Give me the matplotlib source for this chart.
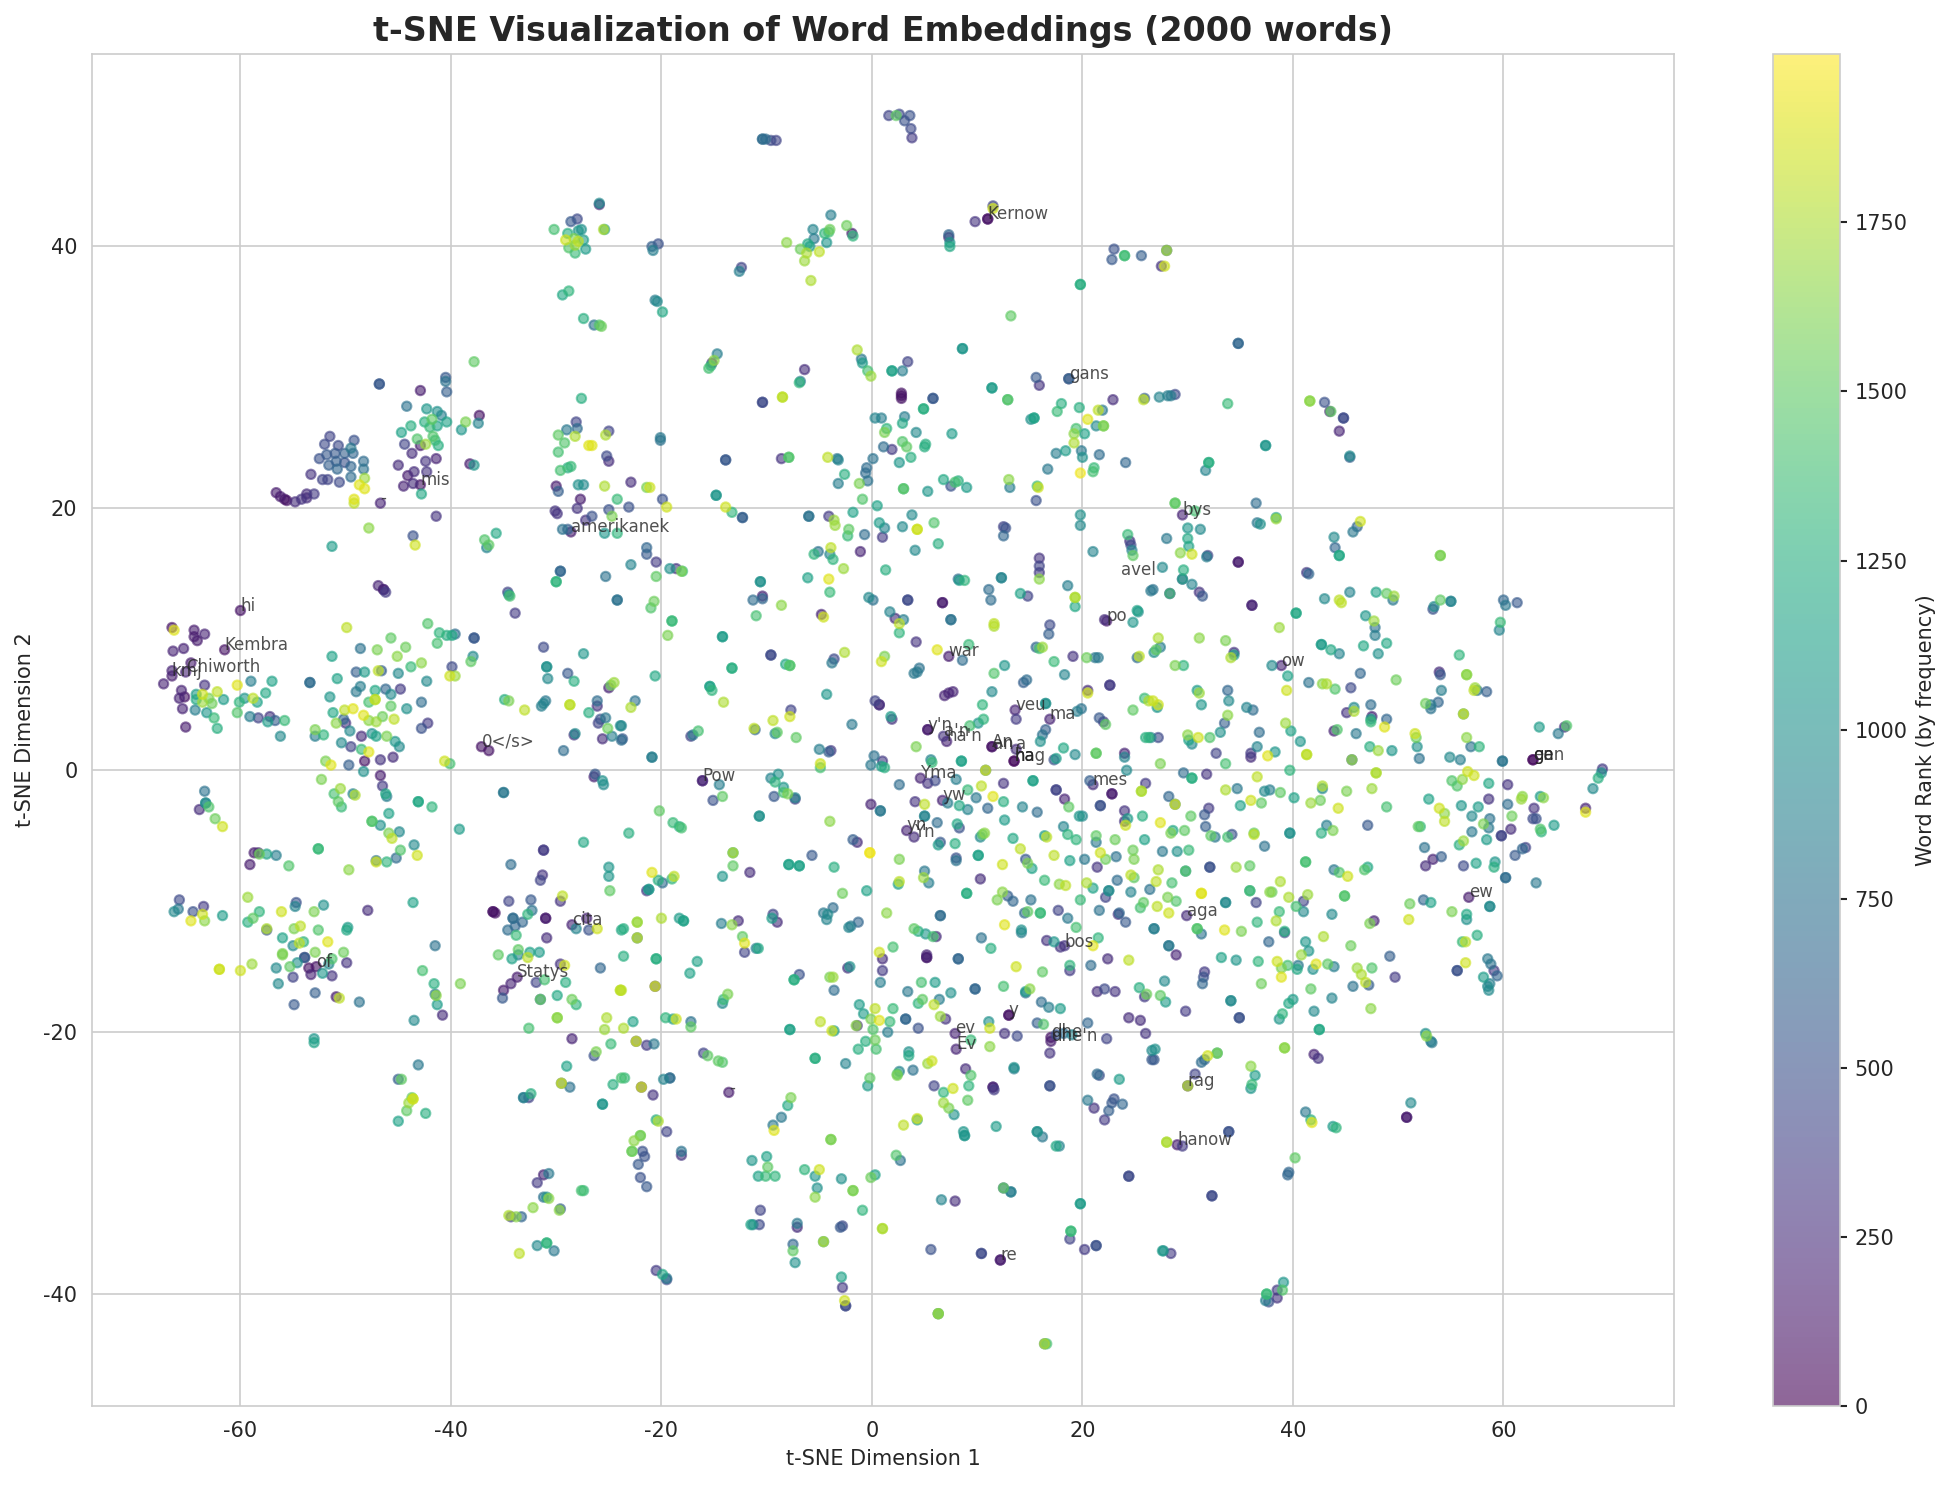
import matplotlib
matplotlib.use("Agg")
import matplotlib.pyplot as plt
import numpy as np
import seaborn as sns

# t-SNE coordinates and frequency ranks, grouped by area of the map
x_nw = [-25.9,-25.9,-28.0,-28.6,-30.2,-28.9,-27.9,-27.6,-25.5,-25.4,
 -29.1,-28.3,-27.9,-27.4,-28.8,-28.2,-28.2,-27.2,-29.4,-28.8,
 -27.4,-26.4,-25.9,-25.7,-37.8,-46.8,-46.8,-42.9,-40.5,-40.5,
 -40.4,-44.2,-42.3,-41.3,-40.9,-41.8,-42.5,-41.3,-40.4,-43.8,
 -42.0,-38.6,-37.3,-37.4,-39.0,-44.7,-41.7,-43.2,-41.5,-42.4,
 -42.9,-44.4,-41.2,-43.7,-42.4,-41.4,-45.0,-38.2,-37.8,-43.5,
 -42.3,-44.1,-43.6,-44.5,-42.9,-42.8,-51.5,-49.2,-52.0,-50.7,
 -49.5,-51.8,-51.0,-50.1,-49.3,-52.5,-50.9,-50.1,-51.6,-48.3,
 -49.5,-50.8,-48.3,-53.3,-49.5,-52.2,-51.7,-50.6,-48.2,-48.7,
 -48.2,-56.6,-56.2,-55.8,-55.6,-54.8,-54.2,-53.7,-53.7,-53.0,
 -49.2,-49.2,-46.7,-27.6,-28.1,-29.0,-28.0,-29.8,-28.2,-25.0,
 -25.3,-29.2,-26.9,-26.6,-29.8,-25.2,-25.0,-29.6,-28.6,-28.9,
 -27.9,-27.4,-25.4,-30.0,-29.8,-27.7,-24.2]
y_nw = [43.3,43.2,42.1,41.9,41.3,41.0,41.2,41.3,41.3,41.3,
 40.5,40.6,40.4,40.5,39.9,40.1,39.5,39.8,36.3,36.6,
 34.5,34.0,34.0,33.9,31.2,29.5,29.5,29.0,30.0,29.7,
 28.9,27.8,27.6,27.4,27.1,26.8,26.6,26.3,26.6,26.3,
 26.2,26.6,27.1,26.5,26.0,25.8,25.5,25.3,25.2,24.9,
 24.8,24.9,24.8,24.2,23.6,23.8,23.3,23.4,23.3,22.8,
 22.8,22.5,21.9,21.7,21.8,21.1,25.5,25.2,24.9,24.8,
 24.6,24.1,24.2,24.2,24.2,23.8,23.6,23.5,23.3,23.6,
 23.2,23.0,23.0,22.6,22.4,22.2,22.2,22.0,22.3,21.8,
 21.5,21.2,20.9,20.7,20.6,20.5,20.7,21.1,20.8,21.1,
 20.7,20.4,20.4,28.4,26.6,26.0,26.1,25.6,25.5,25.9,
 25.6,25.0,24.8,24.8,24.3,24.0,23.6,22.9,23.2,23.1,
 21.8,21.8,21.7,21.7,21.3,20.7,20.7]
rank_nw = [950,200,450,550,1400,1250,1050,1000,1750,1100,
 1850,1600,1800,1100,1450,1700,1350,1100,1200,1300,
 1250,750,1450,1550,1500,550,550,150,550,750,
 600,750,1050,1000,850,1500,1250,1150,1150,1250,
 1350,1600,100,900,1050,1150,1450,1450,1350,1700,
 150,400,1250,250,300,200,250,150,1050,250,
 300,150,250,200,100,1200,400,500,450,450,
 800,550,550,600,650,500,600,500,600,700,
 650,650,750,300,700,400,400,450,1700,1900,
 1900,150,150,100,100,250,300,250,250,350,
 1900,1800,200,1250,400,800,700,1500,1750,400,
 1750,1450,1900,1900,1400,450,250,1400,1350,1250,
 1000,950,1750,150,600,150,1350]

x_n = [1.6,2.6,2.3,3.6,3.1,3.7,3.8,-10.4,-10.4,-10.1,
 -9.6,-9.1,11.5,11.5,11.0,11.0,9.8,-3.9,-2.4,-5.6,
 -4.0,-4.5,-1.9,-1.8,-5.5,-4.1,-8.1,-6.1,-4.3,-5.9,
 -6.8,-6.2,-5.0,-6.4,-5.8,7.3,7.3,7.4,7.4,23.0,
 22.8,24.0,24.0,25.6,19.8,19.8,13.2,-12.4,-12.6,-20.3,
 -20.9,-20.8,-20.6,-20.4,-19.9,-14.7,-15.0,-15.2,-15.3,-15.5,
 -6.4,-6.8,-6.9,-8.5,-8.5,-10.4,-10.4,2.8,2.8,2.8,
 5.8,5.8,8.6,8.6,-1.4,-1.0,-0.9,-0.4,-0.1,1.9,
 1.9,2.9,3.4,15.6,15.9,18.7,18.7,11.4,11.4,12.9,
 12.9,22.9,25.8,25.9,18.0,19.7,17.6,21.5,21.9,15.1,
 15.4,15.4,4.9,4.9,0.3,0.9,3.1,2.9,1.4,1.2,
 4.2,7.6,2.9,3.3,5.1,5.0,1.1,1.9,3.7,2.6,
 0.1,-0.5,-0.6,-0.4,-3.2,-2.6,-1.2,-0.9,-3.3,-3.2,
 -4.2,-7.9,-7.9,-8.6,-13.9,-13.9,-20.1,-20.1,-22.9,-21.4,
 -21.1,-14.8,-14.8,-19.9,6.8,7.9,8.2,7.5,9.0,3.0,
 3.0,5.3,13.0,13.1,15.7,15.8,15.6,16.7,21.1,21.0,
 19.8,24.1,21.6,20.0,19.9,18.4,17.5,19.2,19.2,19.4,
 20.2,20.5,21.3,22.0,22.0]
y_n = [50.0,50.1,50.0,50.0,49.6,49.0,48.3,48.2,48.2,48.2,
 48.1,48.1,43.1,42.9,42.1,42.1,41.9,42.4,41.6,41.3,
 41.3,41.0,41.0,40.8,40.6,41.1,40.3,40.2,40.3,40.0,
 39.8,39.5,39.6,38.9,37.4,40.9,40.7,40.3,40.0,39.8,
 39.0,39.3,39.3,39.3,37.1,37.1,34.7,38.4,38.1,40.2,
 40.0,39.7,35.9,35.8,35.0,31.8,31.3,31.1,30.9,30.7,
 30.6,29.7,29.6,28.5,28.5,28.1,28.1,28.8,28.4,28.6,
 28.4,28.4,32.2,32.2,32.1,31.4,31.1,30.5,30.1,30.5,
 30.5,30.5,31.2,30.0,29.4,29.9,29.9,29.2,29.2,28.3,
 28.3,28.3,28.3,28.4,28.0,27.7,27.4,27.5,27.5,26.8,
 26.9,26.9,27.6,27.6,26.9,26.9,27.0,26.5,26.1,25.8,
 25.8,25.7,25.1,24.7,24.9,24.7,24.7,24.5,23.9,23.5,
 23.8,23.1,22.7,22.1,21.9,22.6,21.9,20.7,23.8,23.7,
 23.9,23.9,23.9,23.8,23.7,23.7,25.4,25.2,22.0,21.6,
 21.6,21.0,21.0,20.7,22.2,22.0,22.1,21.7,21.6,21.5,
 21.5,21.3,22.2,21.6,21.7,21.6,20.6,23.0,23.1,22.8,
 22.7,23.5,24.1,23.9,24.4,24.4,24.2,25.0,25.7,26.1,
 25.7,26.8,26.3,26.3,26.3]
rank_n = [400,450,1500,500,500,450,350,700,700,700,
 450,400,400,1850,100,100,300,850,1550,900,
 1550,1300,150,1300,800,1400,1650,1200,1050,1100,
 1550,1750,1800,1700,1750,650,200,1050,1200,500,
 550,1300,1400,600,1250,1250,1500,400,850,500,
 600,850,850,950,1200,850,1650,250,1250,1400,
 250,850,1300,1800,1800,450,450,100,100,100,
 550,550,1050,1050,1750,800,1100,1400,1700,1150,
 1150,850,400,550,300,700,200,1100,1100,1250,
 1500,250,1800,600,1250,1250,1350,1800,800,1000,
 1150,1150,1250,1250,900,850,850,1200,1300,1600,
 950,1100,1450,1500,1250,1250,700,350,1250,1050,
 750,700,700,750,850,1250,1600,1450,800,900,
 1800,1450,1450,300,550,550,800,750,250,1600,
 1850,1050,1050,500,1200,1400,1250,500,1100,1250,
 1500,1050,1650,850,1350,1850,500,800,1350,1400,
 1950,650,700,1000,800,1100,850,1750,1650,1400,
 1150,1900,950,1600,1600]

x_ne = [28.0,28.0,27.5,27.8,34.8,34.8,27.3,28.1,28.4,28.8,
 33.8,41.6,41.6,43.0,43.6,43.5,44.8,44.8,44.4,45.4,
 45.4,37.4,37.4,32.0,32.0,31.7,28.8,28.8,36.5]
y_ne = [39.7,39.7,38.5,38.5,32.6,32.6,28.5,28.6,28.6,28.7,
 28.0,28.2,28.2,28.1,27.4,27.4,26.9,26.9,25.9,24.0,
 23.9,24.8,24.8,23.5,23.5,22.9,20.4,20.4,20.4]
rank_ne = [500,1700,300,1850,650,650,900,850,800,450,
 1350,1650,1650,500,1500,200,450,450,200,950,
 600,1050,1050,1250,1250,900,1500,1500,700]

x_w = [-41.4,-47.8,-43.6,-43.4,-51.3,-36.8,-36.4,-36.6,-35.7,-30.1,
 -29.9,-28.0,-26.6,-25.0,-27.2,-24.7,-29.4,-28.9,-28.6,-25.4,
 -24.2,-29.6,-29.6,-30.0,-30.0,-25.3,-24.2,-24.2,-34.6,-34.5,
 -34.4,-33.9,-46.9,-46.4,-46.4,-46.2,-60.0,-66.5,-66.3,-64.4,
 -64.4,-63.4,-64.1,-65.4,-66.4,-61.5,-64.7,-66.5,-65.2,-66.5,
 -67.3,-63.4,-65.6,-65.8,-65.3,-65.5,-65.2,-60.3,-59.0,-57.0,
 -62.2,-63.6,-64.2,-64.2,-63.6,-63.0,-62.7,-61.6,-57.6,-59.6,
 -58.8,-58.4,-60.1,-64.3,-63.2,-62.5,-60.3,-59.1,-58.3,-57.2,
 -56.7,-57.4,-55.8,-62.2,-56.2,-53.4,-53.4,-49.9,-45.7,-44.3,
 -42.2,-41.1,-40.4,-39.9,-39.6,-41.3,-37.8,-37.8,-48.6,-47.0,
 -45.1,-51.3,-42.8,-43.8,-37.9,-38.1,-39.9,-49.0,-48.2,-46.9,
 -46.6,-45.0,-40.1,-39.6,-50.8,-42.3,-48.6,-49.0,-47.2,-46.2,
 -44.8,-45.7,-51.5,-47.2,-47.2,-47.8,-45.7,-42.8,-44.2,-50.1,
 -49.3,-51.2,-48.3,-50.2,-50.0,-50.9,-47.8,-47.1,-46.5,-45.4,
 -42.2,-42.8,-52.9,-52.9,-52.1,-49.6,-47.5,-47.1,-48.5,-46.1,
 -50.4,-45.3,-44.9,-49.5,-48.5,-47.8,-45.5,-46.7,-48.2,-51.9,
 -51.4,-49.7,-48.3,-40.6,-40.1,-37.1,-36.4,-31.2,-27.4,-30.9,
 -30.9,-30.8,-28.9,-28.3,-24.5,-24.8,-25.0,-34.9,-34.5,-33.0,
 -31.0,-31.2,-31.4,-28.7,-28.7,-26.1,-26.1,-26.9,-25.3,-25.8,
 -26.0,-25.1,-23.9,-28.2,-28.3,-24.7,-25.6,-23.8,-29.3,-26.3,
 -26.4,-25.6,-25.5,-35.0,-35.0,-63.4,-63.3,-63.3,-63.9,-63.0,
 -62.4,-61.7,-52.3,-50.5,-46.7,-46.5,-49.3,-49.1,-46.2,-46.1,
 -51.1,-50.7,-50.4,-43.1,-43.1,-41.8,-45.9,-47.5,-47.5,-46.7,
 -44.9,-45.9,-45.6,-39.2,-43.5,-44.8,-43.2,-27.4,-31.2,-31.2,
 -58.7,-58.3,-58.2,-57.5,-56.6,-52.6,-52.6,-59.1,-55.4,-47.1,
 -47.1,-46.1,-45.2,-49.7,-34.3,-31.3,-31.5,-25.0,-25.0,-24.9,
 -59.3,-65.8,-63.5,-65.9,-66.3,-64.5,-63.6,-64.7,-63.4,-61.7,
 -54.7,-54.8,-52.1,-53.0,-58.2,-58.8,-59.3,-56.1,-47.9,-43.6,
 -29.4,-29.6,-32.4,-34.5,-32.3,-32.7,-36.0,-36.0,-35.8,-34.1,
 -34.1,-33.2,-33.9,-34.6,-31.0,-31.0,-27.1,-28.5,-28.1,-26.9,
 -26.1,-23.8,-33.8,-30.9,-41.5,-57.5,-57.5,-54.9,-54.3,-52.6,
 -49.8,-49.9,-56.0,-54.0,-55.0,-54.4,-51.7,-56.0,-52.9,-50.2,
 -35.5,-33.6,-32.5,-31.6]
y_w = [19.4,18.5,17.9,17.2,17.1,17.6,17.2,17.0,18.1,19.8,
 19.6,20.0,19.4,19.9,19.1,19.4,18.4,18.4,18.2,18.1,
 18.1,15.2,15.2,14.4,14.4,14.8,13.0,13.0,13.6,13.4,
 13.3,12.0,14.1,13.8,13.8,13.6,12.2,10.9,10.7,10.7,
 10.2,10.4,9.9,9.3,9.1,9.2,8.2,7.6,7.5,7.2,
 6.6,6.5,6.1,5.5,5.6,4.7,3.3,6.5,6.8,6.8,
 6.0,5.8,5.8,5.4,5.2,5.5,5.1,5.4,5.9,5.5,
 5.5,5.2,5.2,4.6,4.4,4.0,4.4,4.1,4.0,4.1,
 3.8,3.7,3.8,3.2,2.6,6.7,6.7,10.9,10.1,9.4,
 11.2,10.5,10.3,10.3,10.4,9.7,10.1,10.1,9.3,9.2,
 8.7,8.7,8.2,7.9,8.7,8.3,7.9,7.5,7.5,7.6,
 7.6,7.4,7.2,7.2,7.0,6.8,6.4,6.0,6.1,6.2,
 6.2,5.8,5.6,5.4,5.4,5.2,4.9,5.2,4.7,4.6,
 4.7,4.4,4.2,3.9,3.6,3.6,3.8,3.7,4.1,3.9,
 3.6,3.2,3.1,2.6,2.7,3.0,2.8,2.6,2.6,2.6,
 2.1,2.2,1.8,1.8,1.6,1.4,1.0,0.8,0.7,0.7,
 0.4,0.4,-0.1,0.7,0.5,1.8,1.5,9.4,8.9,7.9,
 7.9,7.0,7.4,6.8,6.7,6.5,6.3,5.4,5.3,4.6,
 5.3,5.1,4.9,5.0,5.0,5.3,4.9,4.4,4.0,3.9,
 3.6,3.2,3.4,2.8,2.7,2.6,2.4,2.3,1.5,-0.3,
 -0.5,-0.8,-1.1,-1.7,-1.7,-1.6,-2.5,-2.5,-3.0,-2.8,
 -3.7,-4.3,-0.7,-1.4,-0.4,-1.2,-1.8,-1.9,-1.8,-2.0,
 -1.8,-2.4,-2.8,-2.4,-2.4,-2.8,-3.3,-3.9,-3.9,-4.2,
 -4.7,-4.8,-5.2,-4.5,-5.7,-6.1,-6.5,-5.5,-6.1,-6.1,
 -6.3,-6.3,-6.4,-6.4,-6.5,-6.0,-6.0,-7.2,-7.3,-6.9,
 -7.0,-7.0,-6.7,-7.6,-7.2,-8.0,-8.4,-7.4,-8.1,-9.2,
 -9.7,-9.9,-10.4,-10.6,-10.8,-10.8,-11.0,-11.5,-11.5,-11.1,
 -10.1,-10.4,-10.3,-10.8,-10.8,-11.3,-11.6,-10.8,-10.7,-10.1,
 -9.6,-10.0,-9.9,-10.0,-10.7,-11.0,-10.8,-10.8,-10.9,-11.3,
 -11.3,-11.6,-11.9,-12.2,-11.3,-11.3,-11.3,-11.8,-12.1,-12.2,
 -12.1,-12.2,-12.6,-12.8,-13.4,-12.1,-12.2,-12.1,-11.9,-12.2,
 -12.0,-12.2,-12.8,-13.1,-13.4,-13.2,-13.1,-14.0,-13.9,-13.9,
 -14.1,-13.7,-13.9,-13.9]
rank_w = [300,1650,500,1850,1100,1450,1500,900,1200,300,
 300,300,500,500,300,1600,750,600,150,1050,
 1300,650,650,1300,1300,750,750,750,400,1050,
 1400,350,200,200,200,350,100,100,1900,150,
 150,200,150,200,200,100,150,200,200,150,
 200,300,200,200,100,200,150,1900,850,1150,
 1800,1850,1100,1200,1700,1600,1550,1100,1200,1050,
 1800,1150,1300,850,1050,1350,1450,850,400,300,
 600,1100,1350,1250,950,700,700,1800,1500,1550,
 1450,1300,1250,1200,700,1400,550,550,750,1600,
 1650,1150,1650,1350,950,1500,450,600,1100,1800,
 600,950,1850,1700,1150,950,850,800,1200,650,
 350,950,1050,1800,1800,1400,1500,700,1000,1800,
 1900,1200,1900,650,300,1650,1650,1700,1550,1800,
 350,500,1600,850,1300,950,1000,1150,250,1600,
 950,1050,950,400,1350,1900,250,300,100,1600,
 1900,600,1000,1850,1400,100,100,450,1050,1000,
 1000,950,550,1250,1700,1550,200,1250,1600,1800,
 800,900,850,1800,1800,700,300,1250,800,500,
 400,1550,950,950,300,850,250,700,700,550,
 200,1000,950,800,800,750,950,950,250,1450,
 1550,1850,1600,1700,150,350,900,1750,1200,850,
 1400,1500,1350,1200,1200,1300,1150,1450,1450,1000,
 950,1600,1800,1100,950,1450,1850,1200,350,350,
 150,200,1550,1150,850,1350,1350,150,1450,750,
 1850,1300,700,1650,700,300,400,1050,1050,1500,
 1700,450,350,800,950,500,1850,1900,1650,1100,
 500,900,1000,1600,1300,1500,1250,1850,250,1150,
 1800,300,550,400,750,1300,100,100,100,700,
 700,650,650,700,150,150,200,200,900,500,
 1850,1200,1350,250,750,1750,500,1600,1800,1450,
 1100,1200,1150,1300,950,1800,1900,1600,1600,1550,
 1500,1500,1150,1100]

x_c = [-23.1,-19.5,-13.9,-13.3,-12.3,-12.3,-6.0,-6.0,-4.1,-3.6,
 -3.5,-1.8,0.5,-2.2,-2.3,-0.7,0.7,1.2,1.0,2.9,
 3.8,5.9,4.3,4.3,6.3,4.1,-21.4,-21.4,-20.5,-22.9,
 -19.2,-18.6,-18.1,-18.0,-20.5,-10.6,-10.6,-10.4,-11.3,-10.4,
 -8.6,-11.0,-20.7,-21.0,-19.0,-19.0,-19.4,-14.2,-14.2,-9.6,
 -9.6,-8.2,-7.8,-7.8,-13.3,-13.3,-20.6,-15.4,-15.4,-15.2,
 -14.1,-22.5,-22.9,-23.8,-23.7,-20.9,-20.9,-17.2,-17.0,-16.5,
 -4.3,-7.7,-7.8,-9.4,-11.2,-11.1,-9.2,-9.0,-7.2,-4.8,
 -4.6,-1.1,-5.1,-5.5,-3.9,-4.0,-3.7,-2.7,-6.1,-4.1,
 -4.0,1.3,-0.3,0.1,1.7,2.2,3.0,2.6,2.6,3.4,
 3.4,6.7,6.7,7.5,7.5,4.2,6.2,9.2,-2.6,-3.6,
 -3.8,1.2,0.9,8.6,7.3,4.5,4.3,4.0,12.6,11.6,
 14.7,14.4,11.4,7.7,7.3,6.9,0.3,0.7,0.7,10.5,
 16.5,16.5,13.6,13.7,16.9,10.6,10.1,9.3,1.8,1.9,
 -1.9,5.3,5.3,6.8,7.1,4.2,11.4,11.4,13.7,13.5,
 13.5,8.5,8.5,5.6,5.7,10.8,10.8,-5.0,-4.1,-3.9,
 -4.9,-4.9,0.2,1.0,-0.1,0.9,1.2,19.8,19.8,12.5,
 12.7,12.5,24.3,24.5,24.6,24.7,24.8,21.0,15.9,15.9,
 15.9,15.9,18.6,12.3,12.3,8.2,8.3,8.8,11.1,11.3,
 14.1,14.8,19.3,19.3,19.3,11.6,11.6,16.9,16.8,22.1,
 22.3,24.8,25.2,25.3,26.5,15.6,15.9,16.2,17.3,19.1,
 20.4,21.2,21.5,25.2,25.4,18.3,20.5,20.5,22.6,22.6,
 25.9,26.3,24.8,19.5,19.9,21.6,22.0,22.2,16.5,16.2,
 16.0,18.2,19.3,21.3,21.3,24.0,24.0,26.0,26.3,17.5,
 17.3,24.2,20.7,21.0,26.0,8.0,6.0,5.3,4.6,2.6,
 12.5,10.4,9.1,15.3,15.3,17.5,17.5,11.5,18.3,9.9,
 12.5,6.7,4.1,5.0,7.2,8.3,9.1,11.0,14.3,15.7,
 18.7,21.7,21.7,22.8,22.8,25.6,25.6,24.0,19.7,20.0,
 25.7,24.0,24.3,24.1,-0.1,0.8,0.8,-4.0,5.0,5.0,
 6.2,3.3,4.0,8.1,8.3,12.6,18.2,10.7,10.5,10.3,
 16.4,16.6,13.4,18.6,19.4,21.3,21.3,23.1,25.9,6.5,
 6.3,7.9,14.1,17.3,24.8,21.7,22.2,23.2,24.9,-0.2,
 -0.2,-1.8,-1.4,-5.7,8.0,8.0,10.1,10.1,14.6,14.8,
 15.2,18.8,20.2,2.6,12.4,21.4,-7.9,-7.9,-6.9,-6.9,
 -3.6,-13.2,-13.2,-13.2,-14.2,-11.6,-20.9,-18.8,-19.0,-20.3,
 -19.9,-21.4,-21.2,-21.2,24.6,24.9,20.4,21.0,23.3,22.5,
 22.5,22.2,24.6,26.4,25.8,25.5,16.4,17.8,18.4,5.0,
 4.9,5.4,2.6,2.5,10.3,-0.5,-2.8,9.0,9.0,12.4,
 12.9,11.9,13.4,15.1,19.8,14.5,14.8,16.0,16.0,17.7,
 18.6,21.6,23.5,23.4,24.1,1.4,6.5,6.5,12.6,14.2,
 14.2,19.4,4.0,4.4,5.1,5.8,6.1,10.4,16.6,17.3,
 18.3,17.9,21.5,21.0,2.0,11.3,0.7,5.2,-12.1,-11.0,
 -10.8,-12.1,-12.3,-13.3,-12.7,-14.3,-18.3,-17.9,-17.9,-20.0,
 -22.3,-22.3,-23.6,-22.3,-22.3,-9.4,-9.5,-9.0,-4.6,-3.7,
 -4.2,-4.3,-1.3,-2.0,-2.2,-9.6,-8.9,-9.2,-8.4,-16.1,
 -16.1,-14.5,-14.2,-15.1,-9.3,-8.4,-8.0,-7.3,-7.3,-10.7,
 -10.7,-20.2,-23.1,-18.9,-18.3,-18.1]
y_c = [20.1,20.1,20.1,19.7,19.3,19.3,19.4,19.4,19.4,19.1,
 18.7,19.7,20.2,18.4,17.9,18.0,18.9,18.5,17.8,18.6,
 19.5,18.9,18.4,18.4,17.3,16.8,17.0,16.5,15.9,15.7,
 15.4,15.4,15.2,15.2,14.8,14.4,14.4,13.3,13.0,13.1,
 12.6,11.8,12.9,12.4,11.4,11.4,10.3,10.2,10.2,8.8,
 8.8,8.1,8.0,8.0,7.8,7.8,7.2,6.4,6.4,6.1,
 5.2,5.3,4.8,3.4,2.4,1.0,1.0,2.6,2.7,3.0,
 5.8,4.6,4.1,3.8,3.2,3.1,2.8,2.9,2.5,11.9,
 11.7,16.7,16.7,16.5,17.0,16.5,16.1,15.4,14.7,14.6,
 13.6,15.3,13.2,13.0,12.1,11.6,11.5,11.2,10.5,13.0,
 13.0,12.8,12.8,11.5,11.5,9.8,9.2,9.6,9.0,8.5,
 8.2,8.7,8.3,8.4,8.7,7.8,7.5,7.4,8.0,7.4,
 6.9,6.7,6.0,6.0,5.9,5.7,5.3,5.0,5.0,5.0,
 5.1,5.1,4.6,3.9,3.9,3.9,3.6,3.4,4.1,3.9,
 3.5,3.1,3.1,2.6,2.2,1.8,1.8,1.8,1.6,0.7,
 0.7,0.7,0.7,0.8,0.6,0.0,0.0,1.6,1.4,1.5,
 0.5,0.2,1.1,0.7,0.4,0.3,0.2,18.7,19.5,18.6,
 18.5,17.9,18.0,17.5,17.2,16.8,16.4,16.7,16.2,15.6,
 15.1,14.6,14.1,14.7,14.7,14.6,14.5,14.5,13.8,13.0,
 13.5,13.3,13.2,13.2,12.5,11.2,11.0,11.1,10.4,11.5,
 11.4,11.3,12.2,12.1,13.7,9.4,9.3,9.4,8.3,8.7,
 8.6,8.6,8.6,8.6,8.7,7.3,6.1,5.9,6.5,6.5,
 5.5,5.3,4.6,4.5,4.7,4.0,3.7,3.5,3.1,2.7,
 2.2,1.7,1.2,1.3,1.3,1.3,1.0,2.5,2.5,0.9,
 0.8,0.0,-0.8,-1.1,-1.0,-0.7,-0.8,-1.0,-0.6,-1.1,
 -1.0,-1.2,-1.5,-0.8,-0.8,-1.5,-1.5,-2.0,-2.2,-2.1,
 -2.4,-2.3,-2.4,-2.6,-2.5,-2.7,-3.0,-2.9,-2.8,-3.2,
 -2.8,-2.7,-2.7,-1.8,-1.8,-1.6,-1.6,-3.1,-3.5,-3.5,
 -3.5,-3.9,-3.7,-4.2,-2.6,-3.1,-3.1,-3.9,-3.5,-3.5,
 -4.0,-4.6,-5.1,-4.1,-4.4,-3.8,-4.3,-4.8,-4.9,-5.1,
 -5.0,-5.1,-5.2,-4.9,-5.3,-5.0,-5.5,-5.3,-5.3,-5.5,
 -5.7,-5.6,-6.0,-6.5,-6.1,-6.3,-6.8,-6.6,-6.8,-6.3,
 -6.3,-5.3,-5.5,-6.5,-6.7,-6.9,-6.5,-6.5,-6.8,-7.1,
 -7.5,-6.9,-6.8,-6.8,-7.2,-7.4,-7.2,-7.2,-7.3,-7.3,
 -7.4,-6.3,-6.3,-7.3,-8.1,-7.8,-7.8,-8.1,-8.3,-8.4,
 -8.6,-9.2,-9.1,-9.1,-8.0,-8.2,-8.6,-9.0,-8.4,-9.2,
 -9.2,-9.7,-9.3,-9.1,-10.1,-10.5,-8.4,-8.7,-8.8,-7.7,
 -8.2,-8.6,-8.5,-8.7,-8.3,-9.2,-9.4,-9.4,-9.4,-9.3,
 -9.6,-9.9,-10.0,-9.9,-9.9,-10.9,-10.8,-10.9,-10.9,-10.7,
 -11.3,-10.7,-10.9,-11.0,-11.6,-10.9,-11.1,-11.1,-11.8,-12.2,
 -12.4,-12.0,-12.1,-12.3,-12.5,-12.7,-12.7,-12.8,-13.0,-13.1,
 -13.4,-13.5,-12.8,-13.4,-13.5,-13.6,-13.9,-14.1,-13.9,-13.6,
 -13.6,-13.2,-12.7,-11.8,-11.5,-11.7,-11.3,-11.5,-11.5,-11.3,
 -11.6,-11.6,-12.1,-12.8,-12.8,-11.0,-11.3,-11.6,-10.9,-10.5,
 -11.0,-11.4,-11.6,-11.9,-12.0,-0.6,-0.3,-0.9,-1.3,-0.8,
 -0.8,-1.1,-2.0,-2.3,-2.0,-1.7,-1.8,-2.2,-2.1,-3.5,
 -3.5,-3.1,-4.8,-4.0,-4.3,-4.4]
rank_c = [500,1850,1850,1300,600,600,750,750,350,1700,
 1700,1150,1150,1500,1350,700,1100,900,350,950,
 950,1450,1850,1850,1250,950,650,550,350,900,
 1000,300,1600,1350,1500,1000,1000,200,700,650,
 1650,1400,1550,1450,1350,1350,1600,1100,1100,450,
 450,1200,1450,1450,1250,1250,1200,1150,1150,1300,
 1750,750,1750,900,550,850,850,400,800,1400,
 1050,400,1850,1800,1800,650,950,1500,1500,200,
 1850,200,750,1300,1800,900,1300,1700,1150,1900,
 1350,1250,950,750,900,250,850,1800,1300,450,
 450,150,150,750,750,300,1900,1350,1750,450,
 800,1600,1850,700,150,750,800,800,1050,1450,
 700,600,950,200,200,200,400,250,250,1300,
 1000,1000,200,350,200,1300,1050,1400,1100,300,
 800,150,150,300,200,1600,100,100,250,50,
 50,1150,1150,900,1350,750,1850,850,600,350,
 1850,1400,750,350,800,1100,1250,950,1000,400,
 500,650,1350,300,450,900,1500,900,300,400,
 350,1650,850,900,900,700,1100,1300,700,700,
 1150,400,1750,1750,1200,1800,1750,450,600,250,
 150,1050,1150,1000,800,650,1400,1700,1350,300,
 1550,800,800,700,1800,900,250,1850,350,350,
 1350,1750,1500,850,750,550,350,1500,600,750,
 1000,1200,950,1500,1500,200,900,1250,1300,1100,
 500,950,600,250,350,850,450,300,200,700,
 300,1800,1350,1150,1150,400,400,1900,200,800,
 1250,200,300,1800,850,1200,900,650,900,700,
 1500,500,500,150,150,1750,1750,300,1050,950,
 1250,300,1100,1850,200,800,800,1650,900,900,
 700,200,250,1200,500,1100,900,1650,1500,950,
 1100,1800,1200,1300,1300,1500,800,1550,1150,550,
 1100,1250,1800,1800,1550,1850,1550,750,1600,1950,
 1950,600,250,550,500,750,1150,1150,550,1600,
 1150,1150,800,1600,1850,300,1150,1150,1150,1150,
 1250,1100,1750,1500,1050,250,1900,1800,1300,1250,
 700,350,1050,1050,1800,1500,1750,1150,700,950,
 950,400,900,750,1500,1400,1350,1650,1800,800,
 1700,850,1800,1150,250,1150,1550,1250,1250,1650,
 600,1600,650,750,1350,700,1500,1350,1350,400,
 800,750,650,300,550,1650,700,700,1900,1000,
 850,1400,1500,1250,1050,1400,250,750,300,1050,
 300,300,1300,1900,1400,1250,1850,200,400,850,
 1200,1900,1500,1650,250,850,1100,1150,1150,1750,
 1700,1700,1250,750,1800,400,1100,250,800,700,
 950,900,650,800,900,900,1000,1300,1050,200,
 200,850,1500,500,550,1400,1600,350,900,1000,
 1000,1500,1250,1350,1250,1400]

x_e = [29.5,30.7,36.6,36.9,38.4,38.4,46.4,46.1,45.7,43.9,
 44.0,44.4,44.4,54.0,54.0,30.0,31.2,28.0,30.0,30.1,
 29.3,30.4,31.8,31.9,34.8,34.8,27.6,29.6,29.5,29.5,
 30.4,26.7,28.3,28.3,31.1,31.4,41.3,41.5,43.0,45.4,
 44.4,44.6,47.9,48.9,49.6,49.5,54.0,53.4,53.3,55.0,
 55.0,60.0,60.2,61.3,59.7,59.6,36.1,36.1,40.3,40.3,
 38.7,46.9,47.7,47.8,47.8,27.2,31.1,33.6,27.4,27.0,
 26.8,34.4,34.4,34.1,42.7,42.7,43.6,44.4,46.7,48.9,
 48.1,55.8,28.8,29.6,38.0,38.9,39.5,41.5,42.8,43.2,
 44.0,46.4,45.5,49.8,53.9,54.0,56.5,56.5,57.3,57.2,
 57.5,58.4,54.1,39.4,30.9,31.1,33.8,33.9,31.3,26.7,
 27.2,27.1,35.6,36.2,52.6,53.1,53.1,53.8,45.8,45.8,
 47.4,45.1,56.2,56.2,33.8,33.5,47.5,47.4,47.4,48.9,
 48.7,39.3,39.8,36.8,33.1,30.0,31.0,32.1,30.1,30.4,
 27.2,26.5,43.9,44.2,46.0,40.7,51.6,51.7,51.8,47.3,
 48.1,49.4,56.5,56.9,57.7,63.4,65.2,65.8,66.0,36.6,
 36.0,36.0,38.3,37.6,32.7,27.4,33.6,41.3,41.3,45.6,
 45.6,52.0,54.9,55.9,59.9,59.9,62.8,62.8,69.4,69.3,
 69.0,68.5,29.6,30.4,30.4,31.8,39.7,36.6,47.9,47.9,
 56.6,57.2,56.1,55.1,55.6,58.6,60.4,33.6,34.7,37.3,
 37.8,38.8,40.1,42.8,42.8,45.1,47.5,28.2,28.8,28.8,
 36.0,35.0,37.0,41.7,42.6,44.3,48.9,52.9,53.9,54.4,
 56.0,57.6,58.6,60.4,61.8,61.7,63.5,63.8,62.9,67.8,
 67.8,32.0,31.6,30.3,27.4,31.7,34.2,32.6,32.2,33.8,
 28.6,28.4,29.7,36.3,36.3,39.7,39.7,43.2,42.7,43.8,
 47.1,51.9,52.1,54.4,57.0,58.7,60.8,62.8,63.1,58.1,
 58.6,57.0,60.7,59.8,59.8,63.5,63.6,64.8,58.4,56.2,
 55.8,52.5,37.3,27.6,29.0,30.1,62.1,61.8,61.1,53.3,
 54.1,52.6,56.2,57.4,59.2,59.1,60.2,60.2,63.1,41.2,
 41.2,43.9,44.4,45.2,47.1,46.8,35.9,34.6,32.1,32.1,
 27.2,29.8,29.8,27.0,28.5,38.8,35.9,35.9,37.8,38.0,
 31.3,31.3,28.1,28.9,33.6,33.6,39.6,41.4,41.0,44.9,
 44.9,36.5,27.1,28.2,29.9,38.7,40.3,41.0,43.7,36.6,
 38.4,47.7,47.3,51.0,51.1,52.4,53.1,55.1,56.7,56.5,
 56.5,58.7,58.7,26.8,26.8,30.9,30.9,31.3,33.5,35.1,
 39.2,39.2,37.7,41.2,42.9,45.5,57.5,56.1,56.4,28.2,
 28.2,41.5]
y_e = [19.5,19.8,18.9,18.8,19.3,19.2,19.0,18.6,18.2,17.8,
 17.0,16.4,16.4,16.4,16.4,18.5,18.4,17.7,17.7,17.1,
 16.6,16.5,16.3,16.4,15.9,15.9,15.5,15.3,14.6,14.6,
 14.2,13.8,13.5,13.5,13.6,13.3,15.1,15.0,13.1,13.6,
 13.0,12.8,13.6,13.5,13.3,13.0,13.0,12.5,12.3,12.9,
 12.9,13.0,12.6,12.8,11.3,10.7,12.6,12.6,12.0,12.0,
 10.9,11.8,11.4,10.9,10.3,10.1,10.1,9.9,9.4,9.2,
 9.0,9.0,8.8,8.6,9.6,9.6,9.2,8.9,9.5,9.7,
 8.9,8.8,8.0,8.0,8.0,8.0,7.2,6.7,6.6,6.6,
 6.2,7.4,6.3,6.9,7.5,7.3,7.3,7.3,6.3,6.1,
 6.1,6.0,6.1,6.1,6.1,5.9,6.1,5.3,5.0,5.3,
 5.0,4.8,4.8,4.6,5.1,5.0,4.7,5.2,4.8,4.5,
 5.0,4.4,4.3,4.3,4.2,3.6,4.1,3.9,3.7,3.9,
 3.3,3.6,3.0,2.9,2.9,2.7,2.5,2.5,2.3,2.0,
 2.5,2.5,3.0,3.1,2.8,2.2,2.8,2.5,1.8,1.8,
 1.5,1.5,2.5,1.8,1.8,3.3,2.8,3.3,3.4,1.8,
 1.3,1.0,1.4,1.1,1.3,0.5,0.5,1.2,1.2,0.8,
 0.8,0.9,1.0,0.8,0.7,0.7,0.8,0.8,0.1,-0.2,
 -0.6,-1.4,-0.2,-0.6,-0.6,-0.3,0.0,-0.5,-0.2,-0.2,
 -0.1,-0.4,-0.7,-0.8,-1.2,-1.0,-1.1,-1.5,-1.4,-1.6,
 -1.5,-1.7,-2.1,-1.4,-1.2,-1.6,-1.4,-2.0,-2.6,-2.6,
 -2.3,-2.7,-2.5,-2.5,-2.3,-2.9,-2.8,-2.2,-2.9,-3.3,
 -2.7,-2.8,-2.2,-2.6,-2.0,-2.2,-2.0,-2.1,-2.9,-2.9,
 -3.2,-2.9,-3.4,-3.5,-4.0,-4.3,-4.9,-5.1,-5.0,-5.1,
 -4.6,-4.8,-4.6,-4.8,-4.9,-4.8,-4.8,-4.2,-4.8,-4.6,
 -4.2,-4.3,-4.3,-3.9,-3.5,-3.7,-3.5,-3.7,-3.7,-4.1,
 -4.4,-4.7,-4.5,-5.0,-5.0,-4.5,-4.7,-4.2,-5.3,-5.4,
 -5.7,-5.9,-5.8,-6.2,-6.2,-6.1,-5.9,-6.0,-6.5,-6.8,
 -6.6,-7.3,-7.3,-7.1,-7.0,-7.4,-8.2,-8.2,-8.6,-7.0,
 -7.0,-7.6,-7.8,-8.1,-7.4,-7.6,-7.3,-7.4,-7.4,-7.4,
 -7.6,-7.7,-7.7,-8.5,-8.6,-8.5,-9.2,-9.2,-9.3,-9.3,
 -9.4,-9.4,-9.7,-10.0,-10.1,-10.1,-9.7,-9.5,-10.0,-9.6,
 -9.6,-10.1,-10.4,-10.9,-11.1,-10.8,-10.4,-10.8,-11.0,-11.6,
 -11.5,-11.5,-11.7,-11.4,-10.2,-9.9,-10.1,-10.8,-9.7,-11.0,
 -11.4,-10.4,-10.4,-12.1,-12.1,-12.1,-12.1,-12.5,-12.2,-12.3,
 -12.3,-12.4,-13.1,-13.1,-12.7,-13.4,-12.6,-13.1,-13.1,-13.4,
 -13.4,-13.8]
rank_e = [200,1400,800,1000,1150,1700,1850,650,800,950,
 650,1200,1200,1600,1600,1050,950,800,1200,1150,
 1650,1850,850,400,150,150,950,1250,400,1150,
 900,750,300,1350,300,550,350,650,950,900,
 1800,1800,1150,1500,1700,800,1500,950,500,900,
 900,650,800,550,1350,900,200,200,1200,1200,
 1700,1050,1700,750,850,1750,1650,1600,850,1500,
 1000,300,1100,1750,1100,1100,1200,900,1200,1200,
 1000,1300,1600,1300,950,200,1150,750,1650,1750,
 1450,650,450,1550,250,550,1650,1650,1700,1800,
 750,600,850,1850,1100,1700,650,950,1050,1850,
 1850,1050,900,700,1550,800,750,650,950,1750,
 700,300,1050,1850,1650,600,200,1100,1350,650,
 1900,1700,1150,700,1000,1650,1850,1450,1150,950,
 450,900,200,1450,800,1050,1850,1550,1000,1250,
 1700,1050,1650,750,1300,1100,800,300,1450,900,
 350,250,1050,1900,400,1600,1400,1800,1800,1650,
 500,750,950,850,800,700,50,50,350,1000,
 1250,950,700,1250,1250,300,1300,1800,1750,1750,
 1850,1850,1650,1450,1450,1200,300,1750,800,950,
 850,1500,1150,950,1750,1600,1700,650,750,1850,
 1850,1150,1500,1700,1550,1850,1400,1150,1850,1650,
 1050,1100,300,700,1650,1700,1100,1650,300,200,
 1900,350,550,1500,1900,600,500,800,1500,1400,
 1200,1600,1500,1500,1800,1000,1000,850,1250,1600,
 550,1500,1350,1800,950,750,1550,450,500,1600,
 800,800,250,400,400,1450,1300,1100,1100,1700,
 1250,750,750,800,1000,1350,400,650,550,200,
 600,250,450,1150,1050,1250,700,700,800,1400,
 1400,800,1450,1850,1200,1450,1500,1700,500,500,
 1750,1450,950,1800,1400,1750,1100,1400,1650,1550,
 1900,1900,1600,1450,950,950,1750,1700,400,1450,
 1450,400,1800,1850,250,1350,1400,950,950,1300,
 1750,200,1600,1850,1550,650,1150,1600,150,1200,
 1000,950,950,850,850,1450,1450,750,1900,1600,
 1250,450,650,1050,1750,1550,1250,1350,1800,800,
 800,1050]

x_sw = [-62.0,-62.0,-60.0,-58.9,-56.6,-55.3,-54.6,-53.9,-53.9,-56.0,
 -53.5,-52.8,-51.6,-51.3,-49.9,-55.0,-53.3,-52.2,-51.3,-56.4,
 -52.9,-50.9,-50.6,-48.7,-54.9,-42.7,-41.6,-39.1,-41.5,-41.4,
 -41.3,-40.8,-43.5,-53.0,-53.0,-43.1,-45.0,-44.7,-43.7,-43.6,
 -43.6,-44.0,-44.2,-42.4,-45.0,-34.2,-33.6,-32.7,-29.6,-29.2,
 -25.8,-33.7,-34.3,-35.0,-35.1,-31.9,-31.1,-29.1,-31.5,-31.5,
 -29.9,-28.5,-28.1,-29.9,-29.9,-32.6,-25.2,-25.4,-28.5,-24.8,
 -26.2,-26.4,-29.0,-29.5,-29.5,-28.7,-24.6,-25.6,-25.6,-33.1,
 -33.1,-32.6,-32.4,-30.7,-31.2,-31.8,-27.6,-27.4,-31.2,-30.9,
 -30.7,-32.2,-29.6,-29.7,-34.5,-34.3,-33.8,-33.3,-31.8,-30.9,
 -30.9,-30.2,-33.5,-23.9,-23.9,-23.8]
y_sw = [-15.2,-15.2,-15.3,-14.8,-15.1,-15.0,-14.7,-14.3,-14.3,-14.1,
 -15.1,-15.0,-14.8,-14.4,-14.7,-15.8,-15.6,-15.5,-15.7,-16.3,
 -17.0,-17.3,-17.4,-17.7,-17.9,-15.3,-16.3,-16.3,-17.1,-17.2,
 -17.9,-18.7,-19.1,-20.5,-20.8,-22.5,-23.6,-23.6,-25.0,-25.1,
 -25.1,-25.4,-26.0,-26.2,-26.8,-14.4,-14.1,-14.3,-14.8,-14.9,
 -15.1,-15.8,-16.3,-16.8,-17.4,-16.2,-16.0,-16.2,-17.5,-17.5,
 -17.2,-17.5,-17.9,-18.9,-18.9,-19.7,-18.9,-19.8,-20.5,-20.9,
 -21.5,-21.8,-22.6,-23.9,-23.9,-24.2,-24.0,-25.5,-25.5,-25.0,
 -25.0,-25.0,-24.7,-30.8,-30.9,-31.5,-32.1,-32.1,-32.6,-32.6,
 -32.7,-33.4,-33.5,-33.6,-34.0,-34.1,-34.1,-34.1,-36.3,-36.1,
 -36.1,-36.7,-36.9,-16.8,-16.8,-23.5]
rank_sw = [1850,1850,1850,1700,950,1500,1000,650,150,1600,
 100,100,950,1450,300,400,200,1050,300,950,
 600,150,1800,750,550,1400,1250,1600,800,1650,
 1100,250,950,1050,1150,800,600,1500,1500,1850,
 1850,1700,1500,1250,1150,1150,900,1800,300,1850,
 650,150,200,150,550,400,1400,1250,600,1500,
 1200,1550,1300,1650,1650,1400,1750,1700,200,1350,
 1600,500,1150,1850,700,750,1250,1050,1050,850,
 850,400,1250,800,200,350,1400,1350,750,1000,
 1650,1650,600,1650,1750,400,1650,650,950,1300,
 1300,800,1800,1800,1800,1400]

x_s = [-23.6,-20.5,-20.5,-16.6,-17.3,-23.8,-20.6,-20.6,-6.9,-7.4,
 -7.4,-4.0,-3.7,-3.6,-2.3,-2.1,-13.7,-14.1,-14.2,-22.7,
 -23.6,-19.6,-18.9,-18.6,-17.2,-17.2,-7.8,-7.8,-4.9,-3.8,
 -3.6,-1.5,-1.4,-1.2,-0.8,0.3,-0.1,0.7,1.7,2.0,
 0.1,1.5,0.3,-0.6,-1.3,0.4,3.4,4.7,6.0,7.5,
 4.8,4.4,6.4,5.9,6.5,7.0,3.2,3.2,4.4,0.8,
 1.0,1.0,9.8,9.8,8.2,8.2,5.2,5.2,12.5,13.7,
 16.2,14.6,14.6,15.0,18.8,18.8,20.8,22.4,24.4,16.1,
 16.8,17.9,21.4,22.1,23.1,25.4,25.9,26.1,24.4,25.5,
 26.0,20.5,15.7,16.3,13.0,13.0,11.1,11.2,12.6,13.8,
 11.2,9.4,7.9,8.0,17.0,17.0,17.5,18.2,19.0,16.9,
 22.3,3.5,3.5,8.9,9.4,5.7,5.3,2.6,2.4,2.4,
 3.9,-2.5,-5.4,-5.4,-0.2,-0.4,5.9,9.2,7.7,6.8,
 11.5,11.5,11.6,13.5,13.5,16.9,16.9,9.1,6.8,7.3,
 7.8,11.8,8.7,8.8,8.8,4.3,4.3,3.0,15.7,15.7,
 16.2,17.5,17.8,2.3,2.7,0.3,-0.1,12.5,12.5,13.2,
 13.2,6.6,7.9,24.4,24.4,19.8,19.8,18.9,18.9,18.8,
 20.2,21.3,21.3,5.6,10.4,10.4,12.2,12.2,16.4,16.6,
 16.4,6.3,6.3,6.3,-2.9,-2.8,-2.6,-2.5,-2.5,1.0,
 1.0,-0.9,-1.8,-1.8,-2.9,-5.2,-5.4,-5.4,-6.4,-5.0,
 -3.9,-3.9,-7.7,-8.0,-8.6,-9.4,-9.3,-10.0,-11.4,-9.9,
 -10.8,-10.1,-9.2,-10.6,-11.5,-11.3,-10.7,-7.1,-7.1,-2.8,
 -3.0,-7.5,-7.5,-7.3,-4.6,-4.6,-20.5,-19.9,-19.5,-19.5,
 -19.5,-20.5,-20.3,-22.0,-22.0,-22.6,-22.8,-22.8,-21.8,-21.6,
 -22.2,-22.0,-21.4,-18.1,-18.1,-22.4,-22.4,-21.4,-20.7,-16.0,
 -15.6,-14.6,-14.2,-23.5,-19.8,-19.2,-19.2,-21.9,-21.9,-20.8,
 -13.6,20.5,21.1,23.0,22.8,22.5,23.8,22.1,21.4,21.6,
 23.5,26.6,26.6]
y_s = [-14.2,-14.4,-14.4,-14.6,-15.5,-16.8,-16.5,-16.5,-15.6,-16.0,
 -16.0,-15.8,-15.8,-16.8,-15.1,-15.0,-17.1,-17.5,-17.8,-19.2,
 -19.7,-18.9,-19.0,-19.0,-19.2,-19.6,-19.8,-19.8,-19.2,-19.9,
 -19.9,-19.5,-19.5,-17.9,-18.6,-18.2,-19.0,-19.1,-19.2,-18.2,
 -19.8,-20.0,-20.6,-20.7,-21.3,-21.3,-16.9,-16.2,-16.2,-17.0,
 -17.5,-17.8,-17.5,-17.9,-18.8,-19.0,-19.0,-19.0,-19.7,-16.2,
 -15.3,-14.4,-16.7,-16.7,-14.4,-14.4,-14.3,-14.3,-16.5,-15.0,
 -15.4,-17.0,-16.9,-16.7,-14.9,-15.3,-14.9,-14.4,-14.5,-17.7,
 -18.1,-18.2,-16.9,-16.7,-16.9,-16.6,-17.3,-17.1,-18.9,-19.1,
 -20.1,-19.3,-19.3,-19.4,-18.7,-18.7,-19.2,-19.7,-20.1,-20.3,
 -21.1,-20.6,-20.1,-21.3,-20.4,-20.7,-20.2,-20.1,-20.2,-21.6,
 -20.5,-21.5,-21.8,-22.8,-23.3,-22.2,-22.4,-23.0,-23.2,-23.3,
 -22.9,-22.4,-22.0,-22.0,-23.5,-24.1,-24.1,-24.1,-24.3,-24.6,
 -24.2,-24.2,-24.4,-22.7,-22.8,-24.1,-24.1,-25.2,-25.4,-25.8,
 -26.3,-27.2,-27.6,-27.9,-27.9,-26.6,-26.7,-27.1,-27.6,-27.6,
 -28.0,-28.7,-28.7,-29.4,-29.8,-30.9,-31.1,-31.9,-31.9,-32.2,
 -32.2,-32.8,-32.9,-31.0,-31.0,-33.1,-33.1,-35.2,-35.2,-35.8,
 -36.6,-36.3,-36.3,-36.6,-36.9,-36.9,-37.4,-37.4,-43.8,-43.8,
 -43.8,-41.5,-41.5,-41.5,-38.7,-39.5,-40.5,-40.9,-40.9,-35.0,
 -35.0,-33.6,-32.1,-32.1,-31.2,-31.9,-32.6,-31.0,-30.5,-30.5,
 -28.2,-28.2,-25.0,-25.6,-26.5,-27.1,-27.5,-29.5,-29.8,-30.3,
 -31.0,-31.0,-31.0,-33.6,-34.7,-34.7,-34.7,-34.6,-34.9,-34.8,
 -34.9,-36.2,-36.7,-37.6,-36.0,-36.0,-38.2,-38.5,-38.8,-38.9,
 -27.6,-26.7,-26.8,-27.9,-27.9,-28.3,-29.1,-29.1,-29.1,-29.5,
 -30.1,-31.1,-31.8,-29.1,-29.4,-20.7,-20.7,-21.0,-20.9,-21.6,
 -21.8,-22.2,-22.3,-23.5,-23.6,-23.5,-23.5,-24.2,-24.2,-24.8,
 -24.6,-25.2,-25.8,-25.1,-25.4,-26.0,-25.5,-26.7,-23.2,-23.3,
 -23.6,-21.4,-22.1]
rank_s = [1250,1250,1250,1150,1150,1800,1850,300,500,1250,
 1250,1600,1700,700,300,1000,1600,1350,950,1150,
 1750,1300,1100,1850,750,1500,1150,1150,1800,1850,
 1100,1650,300,1100,1100,1800,1600,1900,1350,1350,
 1450,850,1550,1250,1250,1400,800,1400,1100,1000,
 1500,1300,850,1800,1700,300,650,650,500,850,
 350,250,650,650,650,650,150,150,1400,1850,
 1500,700,1100,1650,1300,350,700,250,1800,700,
 850,1100,250,450,300,1250,350,1550,250,250,
 300,650,600,1450,100,100,1000,1850,300,450,
 1650,1350,200,200,100,150,500,700,900,300,
 400,1000,1200,250,1450,1850,1700,900,1450,1600,
 750,900,1250,1250,1500,1100,400,1300,1850,1300,
 200,200,350,1000,850,500,500,1500,1700,1600,
 1000,1100,1050,1050,1050,1850,1100,1800,1000,1000,
 800,1200,900,1450,750,1150,1550,1500,500,850,
 850,900,250,450,450,1100,1100,1350,1350,400,
 350,500,500,500,450,450,150,150,800,1400,
 1750,1650,1650,800,1150,350,1850,450,450,1750,
 1750,1300,1600,1600,1000,1000,1650,1050,1300,1850,
 1600,1600,1600,1200,800,800,1900,1150,1050,1500,
 1150,1350,1300,400,1150,850,450,800,250,450,
 550,650,1500,1000,1050,1750,350,1200,800,450,
 400,1250,1750,1600,1500,1650,1550,1550,500,500,
 550,500,550,750,300,1850,450,350,800,400,
 1500,1500,1450,1350,900,700,700,1850,250,300,
 150,800,300,500,550,600,650,350,700,500,
 1100,950,550]

x_se = [28.9,33.2,34.6,36.7,38.5,38.9,39.5,40.4,40.5,40.8,
 41.9,42.2,43.3,43.9,46.1,47.5,46.5,46.9,47.2,45.7,
 49.2,49.7,38.9,37.0,41.7,43.7,47.4,31.6,31.5,31.4,
 27.8,27.4,27.9,29.8,34.1,34.1,34.9,34.9,40.0,39.6,
 39.0,38.7,42.0,42.5,42.5,56.4,55.6,55.6,58.5,58.8,
 59.1,59.4,58.1,58.7,58.5,58.6,52.6,52.7,53.1,53.2,
 26.9,26.8,31.3,31.6,31.9,32.8,32.8,36.0,36.4,36.1,
 36.0,30.7,30.0,30.0,39.2,39.2,42.0,42.4,41.2,41.7,
 41.8,43.8,44.1,51.2,50.8,50.8,33.9,33.9,28.0,28.0,
 29.0,29.5,40.2,39.6,39.5,32.3,32.3,27.6,27.7,28.4,
 39.1,38.5,39.0,37.5,37.5,37.4,37.7,38.5]
y_se = [-14.1,-14.3,-14.5,-14.6,-14.6,-15.1,-14.9,-15.2,-14.9,-14.1,
 -15.2,-14.8,-14.8,-15.0,-15.1,-15.1,-15.6,-16.2,-16.4,-16.5,
 -14.2,-15.8,-15.8,-16.3,-16.7,-17.4,-18.2,-15.4,-15.8,-16.3,
 -16.1,-17.2,-17.7,-18.4,-17.6,-17.6,-18.9,-18.9,-17.5,-17.8,
 -18.6,-19.0,-18.4,-19.8,-19.8,-14.7,-15.3,-15.3,-14.4,-14.8,
 -15.3,-15.7,-15.8,-16.3,-16.5,-16.8,-20.1,-20.3,-20.7,-20.8,
 -21.3,-22.1,-22.3,-22.1,-21.8,-21.6,-21.6,-22.6,-23.3,-24.0,
 -24.3,-23.2,-24.1,-24.1,-21.2,-21.2,-21.7,-22.0,-26.1,-26.7,
 -26.9,-27.2,-27.3,-25.4,-26.5,-26.5,-27.6,-27.6,-28.4,-28.4,
 -28.6,-28.7,-29.6,-30.7,-30.9,-32.5,-32.5,-36.7,-36.7,-36.9,
 -39.1,-39.7,-39.7,-40.0,-40.0,-40.5,-40.6,-40.3]
rank_se = [200,1150,1050,1300,1850,1600,1400,1200,800,1700,
 1000,1900,1500,850,1700,1450,1750,1800,600,750,
 600,350,1900,1550,1500,900,1650,350,500,650,
 950,1500,1100,350,950,950,500,500,1100,1200,
 1300,1050,950,1200,1200,1850,500,500,800,750,
 350,650,1100,850,950,950,1000,1650,850,800,
 1000,550,700,650,1850,1150,1600,1650,1100,1350,
 1050,400,200,1750,1650,1650,200,300,800,1250,
 1900,1100,1300,950,150,150,500,500,1750,1750,
 150,350,1500,650,650,450,450,1100,900,350,
 1050,350,1450,1350,1350,850,500,300]

# Words printed next to their points
label_words = ["hi", "Kembra", "Chiworth", "kmj", "0</s>", "mis", "amerikanek", "Pow",
               "cita", "of", "Statys", "Kernow", "gans", "avel", "bys", "po", "war", "ow",
               "veu", "ma", "y'n", "a'n", "na'n", "An", "an", "a", "ha", "na", "hag", "Yma",
               "yw", "yn", "Yn", "mes", "bos", "en", "gen", "ga", "ew", "aga", "rag", "hanow",
               "y", "ev", "Ev", "dhe", "dhe'n", "re", "-", "-"]
label_x = [-60.0, -61.5, -65.2, -66.5, -37.1, -42.9, -28.6, -16.1,
           -28.5, -52.8, -33.7, 11.0, 18.7, 23.7, 29.5, 22.3, 7.3, 38.9,
           13.6, 16.9, 5.3, 6.8, 7.1, 11.4, 11.5, 13.7, 13.5, 13.5, 13.5, 4.6,
           6.7, 3.3, 4.0, 21.0, 18.3, 62.8, 62.8, 62.8, 56.7, 29.9, 30.0, 29.0,
           13.0, 7.9, 8.0, 17.0, 17.0, 12.2, -46.7, -13.6]
label_y = [12.2, 9.2, 7.5, 7.2, 1.8, 21.8, 18.2, -0.8,
           -11.8, -15.0, -15.8, 42.1, 29.9, 14.9, 19.5, 11.4, 8.7, 8.0,
           4.6, 3.9, 3.1, 2.6, 2.2, 1.8, 1.6, 1.6, 0.7, 0.7, 0.7, -0.6,
           -2.3, -4.6, -5.1, -1.1, -13.5, 0.8, 0.8, 0.8, -9.7, -11.1, -24.1, -28.6,
           -18.7, -20.1, -21.3, -20.4, -20.7, -37.4, 20.4, -24.6]

xs = np.array(x_nw + x_n + x_ne + x_w + x_c + x_e + x_sw + x_s + x_se)
ys = np.array(y_nw + y_n + y_ne + y_w + y_c + y_e + y_sw + y_s + y_se)
ranks = np.array(rank_nw + rank_n + rank_ne + rank_w + rank_c + rank_e + rank_sw + rank_s + rank_se)
order = np.argsort(ranks, kind="stable")

sns.set_style("whitegrid")
plt.rcParams["axes.unicode_minus"] = False

W, H = 1951, 1485
fig = plt.figure(figsize=(W / 150, H / 150), dpi=150)
ax = fig.add_axes([92 / W, 1 - 1406 / H, (1674 - 92) / W, (1406 - 54) / H])
cax = fig.add_axes([1773 / W, 1 - 1406 / H, (1840 - 1773) / W, (1406 - 54) / H])

points = ax.scatter(xs[order], ys[order], c=ranks[order], cmap="viridis",
                    vmin=0, vmax=1999, s=20, linewidths=1.0, alpha=0.6)

for word, px, py in zip(label_words, label_x, label_y):
    ax.annotate(word, (px, py), fontsize=8, alpha=0.8)

ax.set_xlim(-74.1, 76.2)
ax.set_ylim(-48.55, 54.7)
ax.set_xticks(np.arange(-60, 61, 20))
ax.set_yticks(np.arange(-40, 41, 20))
ax.tick_params(labelsize=10)
ax.set_title("t-SNE Visualization of Word Embeddings (2000 words)",
             fontsize=16, fontweight="bold")
ax.set_xlabel("t-SNE Dimension 1", fontsize=10)
ax.set_ylabel("t-SNE Dimension 2", fontsize=10)

cbar = fig.colorbar(points, cax=cax)
cbar.set_label("Word Rank (by frequency)", fontsize=10)
cbar.set_ticks(np.arange(0, 1751, 250))
cbar.ax.grid(False)
cbar.ax.tick_params(labelsize=10, length=3.5, color=".15", width=1)

fig.savefig("out.png", dpi=150)
